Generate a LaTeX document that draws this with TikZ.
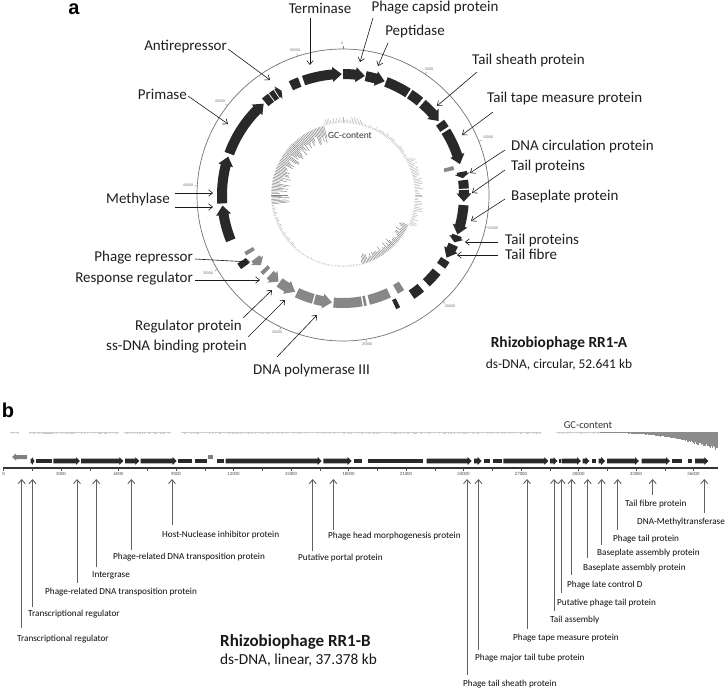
\documentclass[tikz,border=0pt]{standalone}
\usepackage{fontspec}
\setmainfont{Carlito}
\newfontfamily\panelfont{Liberation Sans}
\usetikzlibrary{arrows.meta}
\newcommand\cwgene[4]{%
  \pgfmathsetmacro\gS{#1-90}%
  \pgfmathsetmacro\gE{#2-90}%
  \pgfmathsetmacro\gH{#2-90-min(4.3*121/#3,(#2-#1)*0.7)}%
  \pgfmathsetmacro\rI{#3-5}\pgfmathsetmacro\rO{#3+5}%
  \pgfmathsetmacro\rII{#3-7.5}\pgfmathsetmacro\rOO{#3+7.5}%
  \fill[#4] (\gS:\rI) arc[start angle=\gS,end angle=\gH,radius=\rI] -- (\gH:\rII) -- (\gE:#3) -- (\gH:\rOO) -- (\gH:\rO) arc[start angle=\gH,end angle=\gS,radius=\rO] -- cycle;}
\newcommand\ccwgene[4]{%
  \pgfmathsetmacro\gS{#2-90}%
  \pgfmathsetmacro\gE{#1-90}%
  \pgfmathsetmacro\gH{#1-90+min(4.3*121/#3,(#2-#1)*0.7)}%
  \pgfmathsetmacro\rI{#3-5}\pgfmathsetmacro\rO{#3+5}%
  \pgfmathsetmacro\rII{#3-7.5}\pgfmathsetmacro\rOO{#3+7.5}%
  \fill[#4] (\gS:\rI) arc[start angle=\gS,end angle=\gH,radius=\rI] -- (\gH:\rII) -- (\gE:#3) -- (\gH:\rOO) -- (\gH:\rO) arc[start angle=\gH,end angle=\gS,radius=\rO] -- cycle;}
\newcommand\cblk[4]{%
  \pgfmathsetmacro\gS{#1-90}\pgfmathsetmacro\gE{#2-90}%
  \pgfmathsetmacro\rI{#3-5}\pgfmathsetmacro\rO{#3+5}%
  \fill[#4] (\gS:\rI) arc[start angle=\gS,end angle=\gE,radius=\rI] -- (\gE:\rO) arc[start angle=\gE,end angle=\gS,radius=\rO] -- cycle;}
% linear map genes: start x, end x (head), style
\newcommand\lgene[3]{\fill[#3] (#1,458.6) -- ({#2-min(4,(#2-#1)*0.6)},458.6) -- ({#2-min(4,(#2-#1)*0.6)},457.1) -- (#2,461) -- ({#2-min(4,(#2-#1)*0.6)},464.9) -- ({#2-min(4,(#2-#1)*0.6)},463.4) -- (#1,463.4) -- cycle;}
\newcommand\lblk[3]{\fill[#3] (#1,458.6) rectangle (#2,463.4);}
\begin{document}
\begin{tikzpicture}[x=1pt,y=-1pt,
  lbl/.style={inner sep=0pt, anchor=west, text=black!88, font=\fontsize{15}{17}\selectfont},
  slbl/.style={inner sep=0pt, anchor=west, text=black!95, font=\fontsize{9.2}{10}\selectfont},
  tick/.style={inner sep=0pt, text=black!55, font=\fontsize{4}{4}\selectfont},
  arr/.style={-{Straight Barb[length=4pt,width=6.5pt]}, line width=0.6pt, draw=black!90},
  barr/.style={-{Straight Barb[length=4pt,width=7pt]}, line width=0.9pt, draw=black!62},
  gene/.style={fill=black!84},
  ggene/.style={fill=black!47},
]
\useasboundingbox (0,0) rectangle (727,690);
\fill[white] (0,0) rectangle (727,690);

% ================= panel a =================
\node[inner sep=0pt, font=\panelfont\bfseries\fontsize{20}{20}\selectfont] (pa) at (74,9) {a};

\begin{scope}[shift={(343,195)}]
  \draw[black!55, line width=0.7pt] (0,0) circle[radius=146];
  \foreach \k in {0,...,10}{
    \pgfmathsetmacro\ta{\k*34.1923-90}
    \draw[black!50, line width=0.4pt] (\ta:146) -- (\ta:149);
  }
  % GC content
  \pgfmathsetseed{7}
  \foreach \gb in {0,1.2,...,358.8}{
    \pgfmathsetmacro\A{\gb<15?7:(\gb<60?4:(\gb<115?9:(\gb<165?-11:(\gb<225?-2:(\gb<262?-4:(\gb<345?-19:6))))))}
    \pgfmathsetmacro\L{\A*(0.35+0.65*rnd)}
    \pgfmathsetmacro\rr{72+\L}
    \pgfmathsetmacro\aa{\gb-90}
    \pgfmathsetmacro\g{(((\gb>262)&&(\gb<345))||((\gb>115)&&(\gb<165)))?50:28}
    \draw[black!\g, line width=0.45pt] (\aa:72) -- (\aa:\rr);
  }
  % forward-strand genes
  \cwgene{248}{265}{121}{gene}
  \cwgene{266}{288.5}{121}{gene}
  \cwgene{290}{319}{121}{gene}
  \cblk{320}{323.5}{121}{gene}
  \cblk{324}{326.5}{121}{gene}
  \cwgene{327}{329.5}{121}{gene}
  \cblk{334.5}{339}{121}{gene}
  \cwgene{341}{359.4}{121}{gene}
  \cwgene{0}{10.4}{121}{gene}
  \cwgene{10.8}{20.1}{121}{gene}
  \cblk{20.8}{32.5}{121}{gene}
  \cblk{33.5}{39.5}{121}{gene}
  \cwgene{41}{52.3}{121}{gene}
  \cblk{53.3}{57}{121}{gene}
  \cwgene{58.2}{75.2}{121}{gene}
  \cwgene{79}{82}{121}{gene}
  \cblk{83}{87}{121}{gene}
  \cwgene{87.6}{93.2}{121}{gene}
  \cwgene{94.8}{109}{121}{gene}
  \cwgene{109.5}{113}{121}{gene}
  \cwgene{114.3}{121.2}{121}{gene}
  \cblk{122.3}{125.8}{121}{gene}
  \cblk{129.3}{136.5}{121}{gene}
  \cblk{140}{145.5}{121}{gene}
  \cblk{153}{155}{121}{gene}
  \cblk{234}{237}{121}{gene}
  % reverse-strand genes
  \cblk{75.3}{77.3}{109}{ggene}
  \cblk{147.2}{150.9}{108}{ggene}
  \cblk{154.9}{166.2}{108}{ggene}
  \cblk{167.8}{169.2}{108}{ggene}
  \cblk{170}{185}{108}{ggene}
  \ccwgene{185.9}{195.2}{108}{ggene}
  \cblk{196}{205.2}{108}{ggene}
  \ccwgene{206.4}{216}{108}{ggene}
  \ccwgene{216.7}{222.4}{108}{ggene}
  \cblk{225}{227}{108}{ggene}
  \ccwgene{229.5}{234.1}{108}{ggene}
  \cblk{238}{240}{109}{ggene}
\end{scope}

% circle position labels
\node[tick] (k0) at (342,43) {0};
\node[tick] (k5) at (429,69) {5000};
\node[tick] (k10) at (488,137) {10000};
\node[tick] (k15) at (493,228) {15000};
\node[tick] (k20) at (450,306) {20000};
\node[tick] (k25) at (367,344) {25000};
\node[tick] (k30) at (277,332) {30000};
\node[tick] (k35) at (208,273) {35000};
\node[tick] (k40) at (188,185) {40000};
\node[tick] (k45) at (220,101) {45000};
\node[tick] (k50) at (295,50) {50000};

\node[inner sep=0pt, text=black!80, font=\fontsize{9.5}{10}\selectfont] (gca) at (350,135) {GC-content};

% labels with arrows, panel a
\node[lbl, anchor=center] (lTerm) at (320,8) {Terminase};
\coordinate (sTerm) at (310,18); \coordinate (eTerm) at (310,65);
\draw[arr] (sTerm) -- (eTerm);
\node[lbl, anchor=center] (lCap) at (435,8) {Phage capsid protein};
\coordinate (sCap) at (373,18); \coordinate (eCap) at (360,62);
\draw[arr] (sCap) -- (eCap);
\node[lbl, anchor=center] (lPep) at (415,32) {Peptidase};
\coordinate (sPep) at (388,43); \coordinate (ePep) at (378,66);
\draw[arr] (sPep) -- (ePep);
\node[lbl] (lShe) at (472,61) {Tail sheath protein};
\coordinate (sShe) at (477,72); \coordinate (eShe) at (437,106);
\draw[arr] (sShe) -- (eShe);
\node[lbl] (lTape) at (487,99) {Tail tape measure protein};
\coordinate (sTape) at (493,112); \coordinate (eTape) at (462,135);
\draw[arr] (sTape) -- (eTape);
\node[lbl] (lCirc) at (511,147) {DNA circulation protein};
\coordinate (sCirc) at (505,150); \coordinate (eCirc) at (470,173);
\draw[arr] (sCirc) -- (eCirc);
\node[lbl] (lTp1) at (511,167) {Tail proteins};
\coordinate (sTp1) at (505,170); \coordinate (eTp1) at (472,193);
\draw[arr] (sTp1) -- (eTp1);
\node[lbl] (lBase) at (511,196) {Baseplate protein};
\coordinate (sBase) at (505,199); \coordinate (eBase) at (471,221);
\draw[arr] (sBase) -- (eBase);
\node[lbl] (lTp2) at (505,240) {Tail proteins};
\coordinate (sTp2) at (498,242); \coordinate (eTp2) at (465,242);
\draw[arr] (sTp2) -- (eTp2);
\node[lbl] (lFib) at (505,254) {Tail fibre};
\coordinate (sFib) at (498,255); \coordinate (eFib) at (457,255);
\draw[arr] (sFib) -- (eFib);

\node[lbl, anchor=east] (lAnti) at (227,47) {Antirepressor};
\coordinate (sAnti) at (228,49); \coordinate (eAnti) at (270,80);
\draw[arr] (sAnti) -- (eAnti);
\node[lbl, anchor=east] (lPrim) at (187,94) {Primase};
\coordinate (sPrim) at (188,96); \coordinate (ePrim) at (228,124);
\draw[arr] (sPrim) -- (ePrim);
\node[lbl, anchor=east] (lMeth) at (170,199) {Methylase};
\coordinate (sMe1) at (175,193); \coordinate (eMe1) at (213,193);
\coordinate (sMe2) at (175,207); \coordinate (eMe2) at (213,207);
\draw[arr] (sMe1) -- (eMe1);
\draw[arr] (sMe2) -- (eMe2);
\node[lbl, anchor=east] (lRep) at (193,258) {Phage repressor};
\coordinate (sRep) at (195,259); \coordinate (eRep) at (250,262);
\draw[arr] (sRep) -- (eRep);
\node[lbl, anchor=east] (lResp) at (193,279) {Response regulator};
\coordinate (sResp) at (195,280); \coordinate (eResp) at (260,280);
\draw[arr] (sResp) -- (eResp);
\node[lbl, anchor=east] (lReg) at (242,327) {Regulator protein};
\coordinate (sReg) at (243,318); \coordinate (eReg) at (272,290);
\draw[arr] (sReg) -- (eReg);
\node[lbl, anchor=east] (lSs) at (247,347) {ss-DNA binding protein};
\coordinate (sSs) at (248,337); \coordinate (eSs) at (285,300);
\draw[arr] (sSs) -- (eSs);
\node[lbl] (lPol) at (253,370) {DNA polymerase III};
\coordinate (sPol) at (277,357); \coordinate (ePol) at (317,315);
\draw[arr] (sPol) -- (ePol);

\node[inner sep=0pt, text=black!90, font=\bfseries\fontsize{15.4}{17}\selectfont] (ta1) at (559,343) {Rhizobiophage RR1-A};
\node[inner sep=0pt, text=black!90, font=\fontsize{13.4}{15}\selectfont] (ta2) at (559,365) {ds-DNA, circular, 52.641 kb};

% ================= panel b =================
\node[inner sep=0pt, font=\panelfont\bfseries\fontsize{20}{20}\selectfont] (pb) at (8,410) {b};

% GC content track
\pgfmathsetseed{3}
\foreach \s/\e in {10/18,29/118,124/170,181/540,556/599}{
  \foreach \x in {\s,...,\e}{
    \pgfmathsetmacro\L{0.5+1.5*rnd}
    \draw[black!20, line width=0.4pt] (\x,432) -- (\x,432+\L);
  }
}
\foreach \x in {600,...,717}{
  \pgfmathsetmacro\L{1+19*((\x-600)/117)^2.5*(0.75+0.25*rnd)}
  \draw[black!45, line width=0.45pt] (\x,432) -- (\x,432+\L);
}
\node[inner sep=0pt, text=black!80, font=\fontsize{10.5}{11}\selectfont] (gcb) at (588,425) {GC-content};

% genes
\fill[black!50] (12,457) -- (16,453.5) -- (16,455) -- (27,455) -- (27,459) -- (16,459) -- (16,460.5) -- cycle;
\lgene{30.5}{34.5}{gene}
\lblk{36}{51.7}{gene}
\lgene{53.3}{80}{gene}
\lgene{81}{123.3}{gene}
\lgene{125}{139.3}{gene}
\lgene{140.7}{176.7}{gene}
\lblk{178.3}{191.7}{gene}
\lblk{195}{207.3}{gene}
\fill[black!50] (208,454.5) rectangle (213,458.5);
\lblk{216.7}{224}{gene}
\lgene{225.7}{321.7}{gene}
\lgene{323.3}{351.7}{gene}
\lblk{354}{361.7}{gene}
\lblk{368.3}{423.3}{gene}
\lgene{426.7}{471.7}{gene}
\lgene{474}{481.7}{gene}
\lblk{484}{490}{gene}
\lblk{492.7}{501.7}{gene}
\lgene{503.3}{548.3}{gene}
\lgene{550}{557.5}{gene}
\lblk{559}{560.5}{gene}
\lgene{561.7}{581}{gene}
\lgene{582.5}{589.5}{gene}
\lblk{591.5}{595.5}{gene}
\lgene{598.5}{605}{gene}
\lgene{607}{639}{gene}
\lgene{641.7}{670}{gene}
\lblk{671.7}{681.7}{gene}
\lblk{688.3}{691.5}{gene}
\lgene{695}{708.3}{gene}

% axis
\coordinate (ax0) at (3,468); \coordinate (ax1) at (718,468);
\draw[black!80, line width=1.2pt] (ax0) -- (ax1);
\foreach \k in {0,...,24}{
  \pgfmathsetmacro\tx{3.5+\k*28.75}
  \draw[black!70, line width=0.4pt] (\tx,468) -- (\tx,470.5);
}
\foreach \k/\tv in {0/0,1/3000,2/6000,3/9000,4/12000,5/15000,6/18000,7/21000,8/24000,9/27000,10/30000,11/33000,12/36000}{
  \pgfmathsetmacro\tx{3.5+\k*57.5}
  \node[inner sep=0pt, text=black!70, font=\fontsize{4.8}{5}\selectfont] at (\tx,474) {\tv};
}

% labels with arrows, panel b
\foreach \lx/\ly/\tx/\ty/\nm/\txt in {
  21.7/628/17/639/b1/Transcriptional regulator,
  32.5/607/28/614/b2/Transcriptional regulator,
  77/583/45/592/b3/Phage-related DNA transposition protein,
  96.3/567/92/575/b4/Intergrase,
  131.3/550/113/557/b5/Phage-related DNA transposition protein,
  172/525/162/535/b6/Host-Nuclease inhibitor protein,
  312.7/551/298/558/b7/Putative portal protein,
  333.3/530/328/536/b8/Phage head morphogenesis protein,
  467/675/463/684/b9/Phage tail sheath protein,
  478.5/650/475/658/b10/Phage major tail tube protein,
  527/629/513/638/b11/Phage tape measure protein,
  554/611/550/620/b12/Tail assembly,
  561.7/593/557/603/b13/Putative phage tail protein,
  571.7/575/567/585/b14/Phage late control D,
  587.7/558/583/568/b15/Baseplate assembly protein,
  601.7/545/597/553/b16/Baseplate assembly protein,
  617.7/530/613/539/b17/Phage tail protein,
  652.7/495/625/504/b18/Tail fibre protein,
  704.3/513/637/522/b19/DNA-Methyltransferase}{
  \node[slbl] (l\nm) at (\tx,\ty) {\txt};
  \coordinate (s\nm) at (\lx,\ly);
  \coordinate (e\nm) at (\lx,479);
  \draw[barr] (s\nm) -- (e\nm);
}

\node[inner sep=0pt, anchor=west, text=black!90, font=\bfseries\fontsize{17}{19}\selectfont] (tb1) at (220,642) {Rhizobiophage RR1-B};
\node[inner sep=0pt, anchor=west, text=black!90, font=\fontsize{15.3}{17}\selectfont] (tb2) at (220,660) {ds-DNA, linear, 37.378 kb};
\end{tikzpicture}
\end{document}
